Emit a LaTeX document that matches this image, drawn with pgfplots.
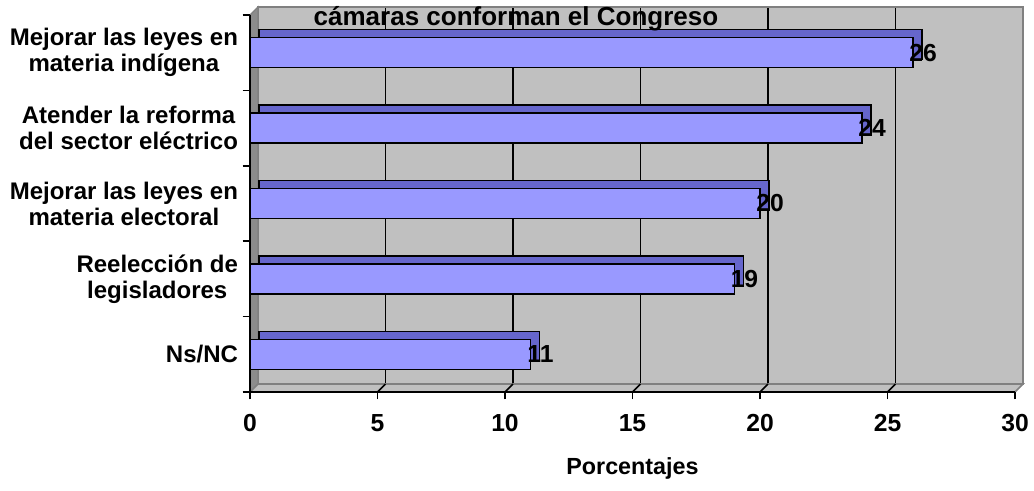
\documentclass[border=0pt]{standalone}
\usepackage{pgfplots}
\pgfplotsset{compat=1.18}
\usepackage{fontspec}
\setmainfont{Liberation Sans}
\definecolor{barfront}{HTML}{9999FF}
\definecolor{bartop}{HTML}{6666CC}
\definecolor{wallgray}{HTML}{C0C0C0}
\definecolor{leftwall}{HTML}{8C8C8C}
\definecolor{edgegray}{HTML}{808080}
\pgfplotstableread{
y val
0 11
1 19
2 20
3 24
4 26
}\datatable
\begin{document}
\begin{tikzpicture}
\path[use as bounding box] (-187.5pt,-73.5pt) rectangle (588pt,294pt);
% back wall
\begin{axis}[
  at={(6pt,6pt)}, anchor=south west,
  scale only axis, width=573.75pt, height=282.75pt,
  xmin=0, xmax=30, ymin=-0.5, ymax=4.5,
  axis background/.style={fill=wallgray},
  axis line style={edgegray, line width=1pt},
  xtick={5,10,...,25}, ytick=\empty,
  xticklabels={}, major tick length=0pt,
  xmajorgrids, grid style={black, line width=1.4pt},
]
\end{axis}
% left wall and floor
\fill[leftwall, draw=edgegray, line width=0.8pt] (0,0) -- (0,282.75pt) -- (6pt,288.75pt) -- (6pt,6pt) -- cycle;
\fill[wallgray, draw=edgegray, line width=1.2pt] (0,0) -- (573.75pt,0) -- (579.75pt,6pt) -- (6pt,6pt) -- cycle;
\begin{axis}[
  at={(0,0)}, anchor=south west,
  scale only axis, width=573.75pt, height=282.75pt,
  xmin=0, xmax=30, ymin=-0.5, ymax=4.5,
  clip=false,
  axis x line*=bottom, axis y line*=left,
  axis line style={black, line width=1.4pt, -},
  tick style={black, line width=1.2pt},
  tick align=outside, major tick length=5.5pt,
  xtick={0,5,...,30},
  ytick={0,1,2,3,4},
  yticklabels={Ns/NC, Reelección de\\legisladores, Mejorar las leyes en\\materia electoral, Atender la reforma\\del sector eléctrico, Mejorar las leyes en\\materia indígena},
  ytick style={draw=none},
  extra y ticks={-0.5,0.5,1.5,2.5,3.5,4.5},
  extra y tick labels={},
  extra y tick style={ytick style={draw=black}},
  yticklabel style={align=center, font=\fontsize{18}{19.5}\selectfont\bfseries, anchor=east, xshift=0pt},
  xticklabel style={font=\fontsize{18.5}{20}\selectfont\bfseries},
  xticklabel shift=8pt,
  /pgf/number format/assume math mode=true,
  xlabel={Porcentajes},
  every axis x label/.style={at={(axis description cs:0.5,0)}, anchor=center, yshift=-57pt, font=\fontsize{17.5}{20}\selectfont\bfseries},
]
% floor slanted tick marks
\foreach \v in {5,10,15,20,25}{
  \edef\tmp{\noexpand\draw[black, line width=1.2pt] (axis cs:\v,-0.5) -- ++(6pt,6pt);}
  \tmp
}
% top/side faces
\addplot[xbar, bar width=22.5pt, fill=bartop, draw=black, line width=1.1pt, xshift=6.75pt, bar shift=6pt]
  table[x=val, y=y] {\datatable};
% front faces
\addplot[xbar, bar width=22.5pt, bar shift=0pt, fill=barfront, draw=black, line width=1.1pt,
  nodes near coords,
  every node near coord/.append style={anchor=center, xshift=7.5pt, font=\fontsize{18.5}{20}\selectfont\bfseries, text=black},
  /pgf/number format/assume math mode=true]
  table[x=val, y=y] {\datatable};
\end{axis}
\node[font=\fontsize{19.5}{22}\selectfont\bfseries] at (199.5pt,279.75pt) {cámaras conforman el Congreso};
\end{tikzpicture}
\end{document}
